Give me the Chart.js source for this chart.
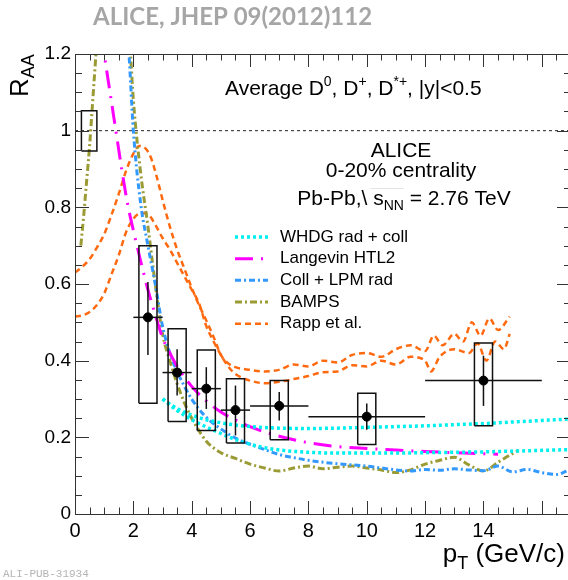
<!DOCTYPE html>
<html>
<head>
<meta charset="utf-8">
<script src="https://cdn.jsdelivr.net/npm/chart.js@4.4.1/dist/chart.umd.min.js"></script>
<style>
  html, body { margin: 0; padding: 0; background: #fff; overflow: hidden; width: 568px; height: 580px; }
  canvas { display: block; }
</style>
</head>
<body>
<canvas id="raaChart" width="580" height="580"></canvas>
<script>
// ALICE average D0, D+, D*+ RAA, 0-20% Pb-Pb
const ptCenter = [2.5, 3.5, 4.5, 5.5, 7, 10, 14];
const ptLow    = [2, 3, 4, 5, 6, 8, 12];
const ptHigh   = [3, 4, 5, 6, 8, 12, 16];
const raa      = [0.513, 0.369, 0.327, 0.271, 0.282, 0.254, 0.348];
const statLo   = [0.415, 0.309, 0.274, 0.205, 0.244, 0.220, 0.282];
const statHi   = [0.605, 0.430, 0.383, 0.335, 0.318, 0.288, 0.413];
const sysLo    = [0.289, 0.241, 0.218, 0.185, 0.194, 0.181, 0.230];
const sysHi    = [0.700, 0.483, 0.428, 0.353, 0.348, 0.315, 0.446];
const normUnc  = [0.947, 1.052];

// model curves
const whdgHiX = [3.0, 3.5, 4.0, 4.5, 5.0, 5.5, 6.0, 7.0, 8.0, 9.0, 10.0, 11.0, 12.0, 13.0, 14.0, 15.0, 16.0, 17.0];
const whdgHiY = [0.300, 0.275, 0.258, 0.246, 0.238, 0.232, 0.228, 0.224, 0.223, 0.224, 0.226, 0.228, 0.230, 0.233, 0.236, 0.240, 0.244, 0.248];
const whdgLoX = [3.0, 3.5, 4.0, 4.5, 5.0, 5.5, 6.0, 6.5, 7.0, 8.0, 9.0, 10.0, 11.0, 12.0, 13.0, 14.0, 15.0, 16.0, 17.0];
const whdgLoY = [0.300, 0.270, 0.246, 0.227, 0.210, 0.194, 0.182, 0.173, 0.167, 0.161, 0.159, 0.159, 0.159, 0.160, 0.161, 0.162, 0.164, 0.166, 0.168];

const langX = [0.9, 1.0, 1.2, 1.4, 1.6, 1.8, 2.0, 2.25, 2.5, 2.75, 3.0, 3.25, 3.5, 4.0, 4.5, 5.0, 5.5, 6.0, 6.5, 7.0, 8.0, 9.0, 10.0, 11.0, 12.0, 13.0, 14.0, 14.5];
const langY = [1.25, 1.20, 1.10, 1.00, 0.90, 0.81, 0.74, 0.66, 0.585, 0.52, 0.46, 0.42, 0.385, 0.333, 0.295, 0.266, 0.245, 0.228, 0.214, 0.203, 0.186, 0.176, 0.171, 0.167, 0.163, 0.160, 0.157, 0.156];

const lpmX = [1.75, 1.85, 2.0, 2.25, 2.5, 2.75, 3.0, 3.25, 3.5, 4.0, 4.5, 5.0, 5.5, 6.0, 6.5, 7.0, 7.5, 8.0, 9.0, 10.0, 10.5, 11.0, 11.5, 12.0, 12.5, 13.0, 13.5, 14.0, 14.5, 15.0, 15.5, 16.0, 16.5, 17.0];
const lpmY = [1.30, 1.20, 1.00, 0.81, 0.70, 0.60, 0.49, 0.42, 0.372, 0.300, 0.252, 0.222, 0.198, 0.182, 0.168, 0.155, 0.147, 0.140, 0.131, 0.125, 0.120, 0.115, 0.112, 0.116, 0.114, 0.118, 0.115, 0.113, 0.125, 0.110, 0.116, 0.108, 0.103, 0.118];

const bampsX = [0.2, 0.3, 0.4, 0.5, 0.6, 0.7, 0.8, 1.0, 1.3, 1.6, 1.8, 1.9, 2.0, 2.25, 2.5, 2.75, 3.0, 3.25, 3.5, 3.75, 4.0, 4.5, 5.0, 5.5, 6.0, 6.5, 7.0, 7.5, 8.0, 8.5, 9.0, 9.5, 10.0, 10.5, 11.0, 11.5, 12.0, 12.5, 13.0, 13.5, 14.0, 14.5, 15.0, 15.2];
const bampsY = [0.70, 0.78, 0.87, 0.96, 1.07, 1.18, 1.30, 1.50, 1.60, 1.45, 1.28, 1.20, 1.08, 0.89, 0.75, 0.60, 0.47, 0.40, 0.34, 0.29, 0.25, 0.19, 0.16, 0.145, 0.13, 0.12, 0.112, 0.12, 0.125, 0.118, 0.122, 0.125, 0.12, 0.115, 0.108, 0.115, 0.13, 0.14, 0.148, 0.128, 0.112, 0.135, 0.158, 0.166];

const rappHiX = [0, 0.25, 0.5, 0.75, 1.0, 1.25, 1.5, 1.75, 2.0, 2.2, 2.4, 2.6, 2.8, 3.0, 3.25, 3.5, 3.75, 4.0, 4.25, 4.5, 4.75, 5.0, 5.25, 5.5, 6.0, 6.5, 7.0, 7.5, 8.0, 8.5, 9.0, 9.5, 10.0, 10.5, 11.0, 11.5, 12.0, 12.3, 12.6, 13.0, 13.3, 13.6, 13.9, 14.2, 14.5, 14.9];
const rappHiY = [0.63, 0.645, 0.665, 0.695, 0.73, 0.78, 0.835, 0.895, 0.94, 0.96, 0.955, 0.93, 0.88, 0.82, 0.75, 0.69, 0.64, 0.59, 0.545, 0.505, 0.462, 0.415, 0.393, 0.383, 0.376, 0.372, 0.376, 0.39, 0.385, 0.40, 0.395, 0.415, 0.42, 0.41, 0.43, 0.44, 0.425, 0.465, 0.44, 0.47, 0.45, 0.50, 0.465, 0.51, 0.48, 0.515];
const rappLoX = [0, 0.25, 0.5, 0.75, 1.0, 1.25, 1.5, 1.75, 2.0, 2.25, 2.5, 2.75, 3.0, 3.25, 3.5, 3.75, 4.0, 4.25, 4.5, 4.75, 5.0, 5.25, 5.5, 5.75, 6.0, 6.5, 7.0, 7.5, 8.0, 8.5, 9.0, 9.5, 10.0, 10.5, 11.0, 11.5, 12.0, 12.2, 12.5, 13.0, 13.5, 13.8, 14.1, 14.4, 14.7, 14.9];
const rappLoY = [0.515, 0.518, 0.527, 0.545, 0.575, 0.625, 0.675, 0.735, 0.77, 0.785, 0.782, 0.755, 0.72, 0.69, 0.655, 0.62, 0.585, 0.55, 0.49, 0.45, 0.415, 0.385, 0.365, 0.355, 0.348, 0.341, 0.345, 0.352, 0.36, 0.37, 0.372, 0.388, 0.385, 0.40, 0.39, 0.41, 0.40, 0.372, 0.41, 0.43, 0.42, 0.445, 0.40, 0.45, 0.43, 0.47];

const xTickStep = 2;
const yTickStep = 0.2;

// styles
const boxHalf = 0.31;
const normBoxX = [0.22, 0.75];
const models = [
  { label: 'WHDG rad + coll', color: '#00f0f0', dash: [3, 3], width: 3.5 },
  { label: 'Langevin HTL2',   color: '#ff00ff', dash: [18, 8, 2, 8], width: 3 },
  { label: 'Coll + LPM rad',  color: '#3399ff', dash: [6, 3, 2, 3], width: 3 },
  { label: 'BAMPS',           color: '#9b9b35', dash: [7, 3, 2, 3], width: 3 },
  { label: 'Rapp et al.',     color: '#ff6a10', dash: [6, 4], width: 2.5 }
];
const FONT = '"Liberation Sans", Arial, sans-serif';

const xy = (xs, ys) => xs.map((x, i) => ({ x: x, y: ys[i] }));

function markLine(data, w) {
  return { data: data, showLine: true, borderColor: '#111', borderWidth: w || 1.5, pointRadius: 0, tension: 0 };
}
function modelLine(m, data) {
  return { data: data, showLine: true, borderColor: m.color, borderWidth: m.width, borderDash: m.dash,
           pointRadius: 0, cubicInterpolationMode: 'monotone' };
}

const datasets = [];
// data points
datasets.push({ data: xy(ptCenter, raa), showLine: false, pointRadius: 4.5, pointBackgroundColor: '#000', pointBorderColor: '#000' });
ptCenter.forEach((c, i) => {
  datasets.push(markLine([{ x: ptLow[i], y: raa[i] }, { x: ptHigh[i], y: raa[i] }]));
  datasets.push(markLine([{ x: c, y: statLo[i] }, { x: c, y: statHi[i] }]));
  datasets.push(markLine([
    { x: c - boxHalf, y: sysLo[i] }, { x: c + boxHalf, y: sysLo[i] }, { x: c + boxHalf, y: sysHi[i] },
    { x: c - boxHalf, y: sysHi[i] }, { x: c - boxHalf, y: sysLo[i] }]));
});
datasets.push(markLine([
  { x: normBoxX[0], y: normUnc[0] }, { x: normBoxX[1], y: normUnc[0] }, { x: normBoxX[1], y: normUnc[1] },
  { x: normBoxX[0], y: normUnc[1] }, { x: normBoxX[0], y: normUnc[0] }]));

datasets.push(modelLine(models[0], xy(whdgHiX, whdgHiY)));
datasets.push(modelLine(models[0], xy(whdgLoX, whdgLoY)));
datasets.push(modelLine(models[1], xy(langX, langY)));
datasets.push(modelLine(models[2], xy(lpmX, lpmY)));
datasets.push(modelLine(models[3], xy(bampsX, bampsY)));
datasets.push(modelLine(models[4], xy(rappHiX, rappHiY)));
datasets.push(modelLine(models[4], xy(rappLoX, rappLoY)));

// dashed line at RAA = 1
datasets.push({ data: [{ x: 0, y: 1 }, { x: 17, y: 1 }], showLine: true, borderColor: '#222', borderWidth: 1,
                borderDash: [3, 3], pointRadius: 0 });

// write text with sub/superscripts; parts = [text, size, dy]
function rich(ctx, x, y, parts, align) {
  let w = 0;
  parts.forEach(p => { ctx.font = p[1] + 'px ' + FONT; w += ctx.measureText(p[0]).width; });
  let cx = align === 'center' ? x - w / 2 : (align === 'right' ? x - w : x);
  const starts = [];
  parts.forEach(p => {
    ctx.font = p[1] + 'px ' + FONT;
    starts.push(cx);
    ctx.fillText(p[0], cx, y + p[2]);
    cx += ctx.measureText(p[0]).width;
  });
  return starts;
}

// ROOT-style frame with inward ticks on all four sides
function drawFrame(chart) {
  const ctx = chart.ctx;
  const a = chart.chartArea;
  const sx = chart.scales.x;
  const sy = chart.scales.y;
  ctx.save();
  ctx.setLineDash([]);
  ctx.strokeStyle = '#333';
  ctx.lineWidth = 1;
  ctx.beginPath();
  ctx.rect(Math.round(a.left) + 0.5, Math.round(a.top) + 0.5, Math.round(a.right - a.left), Math.round(a.bottom - a.top));
  const nx = Math.round((sx.max - sx.min) / (xTickStep / 4));
  for (let i = 0; i <= nx; i++) {
    const px = Math.round(sx.getPixelForValue(sx.min + i * xTickStep / 4)) + 0.5;
    const len = i % 4 === 0 ? 13 : 6.5;
    ctx.moveTo(px, a.bottom); ctx.lineTo(px, a.bottom - len);
    ctx.moveTo(px, a.top); ctx.lineTo(px, a.top + len);
  }
  const ny = Math.round((sy.max - sy.min) / (yTickStep / 4));
  for (let i = 0; i <= ny; i++) {
    const py = Math.round(sy.getPixelForValue(sy.min + i * yTickStep / 4)) + 0.5;
    const len = i % 4 === 0 ? 14 : 7;
    ctx.moveTo(a.left, py); ctx.lineTo(a.left + len, py);
    ctx.moveTo(a.right, py); ctx.lineTo(a.right - len, py);
  }
  ctx.stroke();
  ctx.restore();
}

function drawTexts(chart) {
  const ctx = chart.ctx;
  ctx.save();
  ctx.setLineDash([]);
  ctx.textBaseline = 'alphabetic';
  ctx.textAlign = 'left';

  // header
  ctx.fillStyle = '#a6a6a6';
  ctx.font = 'bold 24px Lato, "Open Sans", sans-serif';
  ctx.fillText('ALICE, JHEP 09(2012)112', 93, 25);

  ctx.fillStyle = '#000';
  rich(ctx, 225, 95, [['Average D', 21, 0], ['0', 14, -9], [', D', 21, 0], ['+', 14, -9],
                      [', D', 21, 0], ['*+', 14, -9], [', |y|<0.5', 21, 0]], 'left');
  rich(ctx, 401, 157, [['ALICE', 21, 0]], 'center');
  rich(ctx, 401, 177, [['0-20% centrality', 21, 0]], 'center');
  const st = rich(ctx, 404, 205, [['Pb-Pb,\\', 21, 0], [' s', 21, 0], ['NN', 14, 5], [' = 2.76 TeV', 21, 0]], 'center');
  ctx.strokeStyle = '#e4e4e4';
  ctx.lineWidth = 1;
  ctx.beginPath(); ctx.moveTo(st[1] + 3, 188.5); ctx.lineTo(st[3], 188.5); ctx.stroke();

  // legend
  const rowY = [237, 258.7, 280.3, 302, 323.7];
  models.forEach((m, i) => {
    ctx.strokeStyle = m.color;
    ctx.lineWidth = m.width;
    ctx.setLineDash(m.dash);
    ctx.beginPath(); ctx.moveTo(235, rowY[i]); ctx.lineTo(268, rowY[i]); ctx.stroke();
    ctx.setLineDash([]);
    ctx.fillStyle = '#000';
    ctx.font = '17px ' + FONT;
    ctx.textBaseline = 'middle';
    ctx.fillText(m.label, 280, rowY[i]);
  });
  ctx.textBaseline = 'alphabetic';

  // axis titles
  ctx.fillStyle = '#000';
  rich(ctx, 565, 562, [['p', 26, 0], ['T', 18, 7], [' (GeV/c)', 26, 0]], 'right');
  ctx.save();
  ctx.translate(28, 97);
  ctx.rotate(-Math.PI / 2);
  rich(ctx, 0, 0, [['R', 26, 0], ['AA', 18, 6]], 'left');
  ctx.restore();

  // figure id
  ctx.fillStyle = '#b4b4b4';
  ctx.font = '11px "Liberation Mono", "DejaVu Sans Mono", monospace';
  ctx.fillText('ALI-PUB-31934', 3, 577);
  ctx.restore();
}

const decorations = {
  id: 'decorations',
  afterDraw(chart) {
    try {
      drawFrame(chart);
    } catch (e) {
      chart.ctx.fillStyle = 'red';
      chart.ctx.fillText(String(e), 100, 450);
    }
    drawTexts(chart);
  }
};

new Chart(document.getElementById('raaChart'), {
  type: 'scatter',
  data: { datasets: datasets },
  options: {
    responsive: false,
    animation: false,
    devicePixelRatio: 1,
    events: [],
    layout: { padding: { top: 54, right: 9, left: 0, bottom: 0 } },
    plugins: { legend: { display: false }, tooltip: { enabled: false } },
    scales: {
      x: {
        type: 'linear', min: 0, max: 17,
        grid: { display: false, drawTicks: false },
        border: { display: false },
        ticks: {
          stepSize: xTickStep, autoSkip: false, maxRotation: 0, padding: 5, color: '#000',
          font: { family: FONT, size: 20 },
          callback: v => (Math.abs(v % xTickStep) < 1e-9 ? String(v) : '')
        },
        afterFit: s => { s.height = 66; }
      },
      y: {
        type: 'linear', min: 0, max: 1.2,
        grid: { display: false, drawTicks: false },
        border: { display: false },
        ticks: {
          stepSize: yTickStep, padding: 4, color: '#000',
          font: { family: FONT, size: 19 },
          callback: v => String(Math.round(v * 10) / 10)
        },
        afterFit: s => { s.width = 75; }
      }
    }
  },
  plugins: [decorations]
});
</script>
</body>
</html>
